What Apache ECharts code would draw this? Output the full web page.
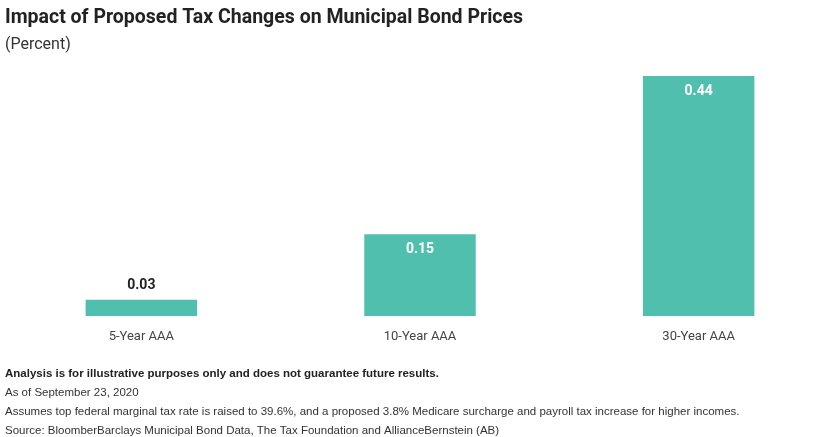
<!DOCTYPE html>
<html>
<head>
<meta charset="utf-8">
<script src="https://cdn.jsdelivr.net/npm/echarts@6/dist/echarts.min.js"></script>
<style>
  html, body { margin: 0; padding: 0; background: #fff; }
  #main { width: 840px; height: 437px; }
</style>
</head>
<body>
<div id="main"></div>
<script>
var categories = ['5-Year AAA', '10-Year AAA', '30-Year AAA'];
var priceImpact = [0.03, 0.15, 0.44];
var footnotes = [
    'As of September 23, 2020',
    'Assumes top federal marginal tax rate is raised to 39.6%, and a proposed 3.8% Medicare surcharge and payroll tax increase for higher incomes.',
    'Source: BloomberBarclays Municipal Bond Data, The Tax Foundation and AllianceBernstein (AB)'
];

var chart = echarts.init(document.getElementById('main'));

var titles = [
    {
        text: 'Impact of Proposed Tax Changes on Municipal Bond Prices',
        left: 0, top: 3,
        textStyle: { fontFamily: 'Roboto', fontSize: 19.5, fontWeight: 'bold', color: '#222' }
    },
    {
        text: '(Percent)',
        left: 0, top: 32,
        textStyle: { fontFamily: 'Roboto', fontSize: 16, fontWeight: 'normal', color: '#333' }
    },
    {
        text: 'Analysis is for illustrative purposes only and does not guarantee future results.',
        left: 0, top: 363,
        textStyle: { fontFamily: 'Liberation Sans', fontSize: 11.5, fontWeight: 'bold', color: '#222' }
    }
];
footnotes.forEach(function (t, i) {
    titles.push({
        text: t,
        left: 0, top: 382 + i * 19,
        textStyle: { fontFamily: 'Liberation Sans', fontSize: 11.5, fontWeight: 'normal', color: '#333' }
    });
});

option = {
    animation: false,
    title: titles,
    grid: {
        left: 2,
        right: 2,
        top: 76,
        bottom: 121,
        containLabel: false
    },
    xAxis: {
        type: 'category',
        data: categories,
        axisLine: { show: false },
        axisTick: { show: false },
        axisLabel: {
            margin: 14,
            fontFamily: 'Roboto',
            fontSize: 13,
            color: '#444'
        }
    },
    yAxis: {
        type: 'value',
        min: 0,
        max: 0.44,
        show: false,
        splitLine: { show: false }
    },
    series: [{
        type: 'bar',
        data: priceImpact.map(function (v, i) {
            var small = v < 0.05;
            return {
                value: v,
                label: {
                    position: small ? 'top' : 'insideTop',
                    distance: small ? 7 : 8,
                    color: small ? '#222' : '#fff'
                }
            };
        }),
        barWidth: '40%',
        itemStyle: { color: '#50bfae' },
        label: {
            show: true,
            fontFamily: 'Roboto',
            fontSize: 14,
            fontWeight: 'bold',
            formatter: function (p) { return p.value.toFixed(2); }
        }
    }]
};
chart.setOption(option);
</script>
</body>
</html>
